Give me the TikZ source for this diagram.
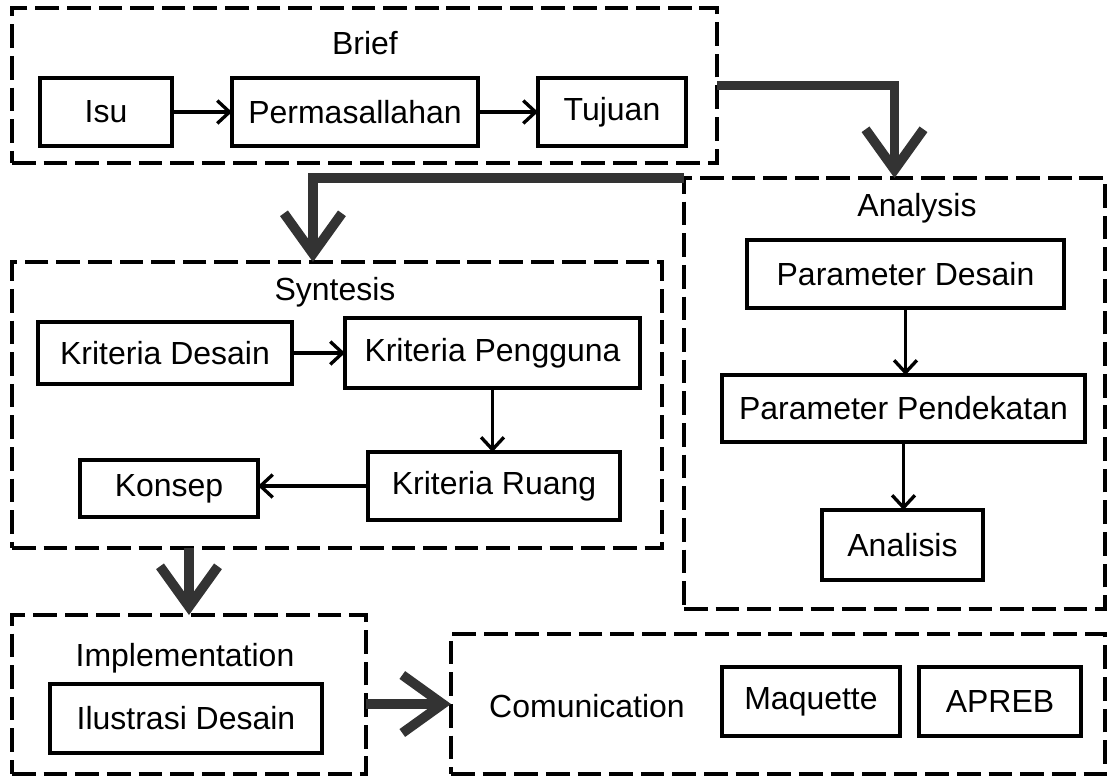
\documentclass[tikz,border=0pt]{standalone}
\usepackage{fontspec}
\setmainfont{Liberation Sans}
\usetikzlibrary{arrows.meta,fit,calc}
\begin{document}
\begin{tikzpicture}[x=0.02cm,y=-0.02cm,
  font=\fontsize{18.2}{20}\selectfont,
  grp/.style={draw, line width=2.8pt, dash pattern=on 13.5pt off 4.5pt, inner sep=0pt, outer sep=0pt},
  sbox/.style 2 args={draw, line width=2.1pt, inner sep=0pt, outer sep=0pt, minimum width=#1*0.02cm, minimum height=#2*0.02cm},
  ttl/.style={inner sep=0pt},
  thin/.style={line width=1.9pt, -{Straight Barb[length=7pt,width=13pt]}},
  big/.style={line width=5.5pt, draw={rgb,255:red,51;green,51;blue,51}, -{Straight Barb[length=23pt,width=33pt]}}]
\useasboundingbox (0,0) rectangle (1109,778);
% groups
\node[grp, fit={(12,8)(717,163)}] (brief) {};
\node[ttl] (tbrief) at (365,43) {Brief};
\node[grp, fit={(684,178)(1105,609)}] (analysis) {};
\node[ttl] (tanalysis) at (917,208) {Analysis};
\node[grp, fit={(12,262)(662,548)}] (syntesis) {};
\node[ttl] (tsyntesis) at (335,292) {Syntesis};
\node[grp, fit={(12,615)(366,774)}] (implementation) {};
\node[ttl] (timpl) at (185,658) {Implementation};
\node[grp, fit={(451,634)(1105,774)}] (comunication) {};
\node[ttl] (tcom) at (587,706) {Comunication};
% boxes
\node[sbox={132}{68}] (isu) at (106,112) {Isu};
\node[sbox={246}{68}] (perm) at (355,112) {Permasallahan};
\node[sbox={148}{68}] (tujuan) at (612,112) {Tujuan};
\node[sbox={317}{68}] (pd) at (905.5,274) {Parameter Desain};
\node[sbox={363}{67}] (pp) at (903.5,408.5) {Parameter Pendekatan};
\node[sbox={161}{70}] (analisis) at (902.5,545) {Analisis};
\node[sbox={254}{62}] (kd) at (165,353) {Kriteria Desain};
\node[sbox={295}{70}] (kp) at (492.5,353) {Kriteria Pengguna};
\node[sbox={252}{68}] (kr) at (494,486) {Kriteria Ruang};
\node[sbox={178}{57}] (konsep) at (169,488.5) {Konsep};
\node[sbox={272}{69}] (ilus) at (186,718.5) {Ilustrasi Desain};
\node[sbox={178}{69}] (maq) at (811,701.5) {Maquette};
\node[sbox={162}{69}] (apreb) at (1000,701.5) {APREB};
% thin arrows
\draw[thin] (isu) -- (perm);
\draw[thin] (perm) -- (tujuan);
\draw[thin] (kd) -- (kp);
\draw[thin] (kp.south) -- (kp.south |- kr.north);
\draw[thin] (kr.west) -- (kr.west -| konsep.east);
\draw[thin] (pd.south) -- (pd.south |- pp.north);
\draw[thin] (pp.south) -- (pp.south |- analisis.north);
% thick arrows
\coordinate (sdrop) at ($(syntesis.north west)!0.463!(syntesis.north east)$);
\draw[big] (brief.east) -| (analysis.north);
\draw[big] (analysis.north west) -| (sdrop);
\draw[big] (syntesis.south -| implementation.north) -- (implementation.north);
\draw[big] (implementation.east |- comunication.west) -- (comunication.west);
\end{tikzpicture}
\end{document}
